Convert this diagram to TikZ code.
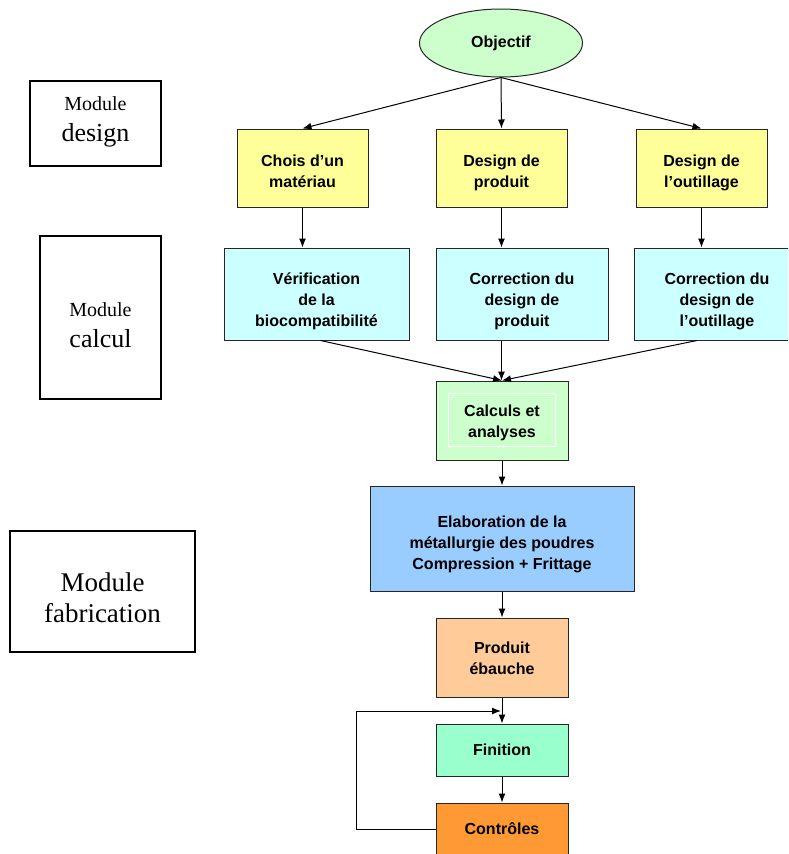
\documentclass[tikz,border=0pt]{standalone}
\usepackage{fontspec}
\setmainfont{Liberation Serif}
\setsansfont{Liberation Sans}
\usetikzlibrary{shapes.geometric,arrows.meta}
\definecolor{jaune}{HTML}{FFFF99}
\definecolor{cyanclair}{HTML}{CCFFFF}
\definecolor{vertclair}{HTML}{CCFFCC}
\definecolor{bleu}{HTML}{99CCFF}
\definecolor{peche}{HTML}{FFCC99}
\definecolor{menthe}{HTML}{99FFCC}
\definecolor{orange}{HTML}{FF9933}
\tikzset{
  etape/.style={draw=black!85, line width=1pt, inner sep=0pt, align=center,
    font=\sffamily\bfseries\fontsize{16}{21}\selectfont,
    minimum width=132pt},
  % boite de hauteur #1, derniere ligne posee a #2 du bas
  boite/.style 2 args={text height=#1-#2, text depth=#2, minimum height=#1},
  module/.style={draw, line width=1.6pt, inner sep=0pt, align=center},
  fleche/.style={-{Latex[length=9pt,width=7pt]}, line width=1pt}
}
\begin{document}
\begin{tikzpicture}[x=1pt,y=-1pt]
  \clip (0,0) rectangle (788,854);
  \fill[white] (0,0) rectangle (788,854);
  % modules
  \node[module, boite={85pt}{25pt}, minimum width=131pt] (mdesign) at (95.5,123.5)
    {\fontsize{20}{22}\selectfont Module\\[11pt]\fontsize{26}{26}\selectfont design};
  \node[module, boite={163pt}{52pt}, minimum width=121pt] (mcalcul) at (100.5,317.5)
    {\fontsize{20}{22}\selectfont Module\\[11pt]\fontsize{26}{26}\selectfont calcul};
  \node[module, boite={121pt}{30pt}, minimum width=185pt] (mfab) at (102.5,591.5)
    {\fontsize{27}{30}\selectfont Module\\[10pt]\fontsize{27}{30}\selectfont fabrication};
  % objectif
  \node[ellipse, draw=black!85, line width=1pt, fill=vertclair, inner sep=0pt,
    minimum width=163pt, minimum height=68pt,
    font=\sffamily\bfseries\fontsize{16}{21}\selectfont] (obj) at (501,43) {Objectif};
  % design
  \node[etape, boite={78pt}{19.5pt}, fill=jaune, minimum width=131pt] (choix) at (302.5,168)
    {Chois d’un\\matériau};
  \node[etape, boite={78pt}{19.5pt}, fill=jaune, minimum width=131pt] (desprod) at (501.5,168)
    {Design de\\produit};
  \node[etape, boite={78pt}{19.5pt}, fill=jaune, minimum width=131pt] (desout) at (701.5,168)
    {Design de\\l’outillage};
  % calcul
  \node[etape, boite={92pt}{14pt}, fill=cyanclair, minimum width=185pt] (verif) at (316.5,294)
    {Vérification\\de la\\biocompatibilité};
  \node[etape, boite={92pt}{14pt}, fill=cyanclair, minimum width=172pt] (corprod) at (522,294)
    {Correction du\\design de\\produit};
  \node[etape, boite={92pt}{14pt}, fill=cyanclair, minimum width=166pt] (corout) at (717,294)
    {Correction du\\design de\\l’outillage};
  \node[etape, boite={79pt}{22.5pt}, fill=vertclair] (calc) at (502,420.5)
    {Calculs et\\analyses};
  \draw[white, line width=1.2pt] ([shift={(13pt,-13pt)}]calc.north west)
    rectangle ([shift={(-13pt,14pt)}]calc.south east);
  % fabrication
  \node[etape, boite={105pt}{21.5pt}, fill=bleu, minimum width=264pt] (elab) at (502,538.5)
    {Elaboration de la\\métallurgie des poudres\\Compression + Frittage};
  \node[etape, boite={79pt}{22.5pt}, fill=peche] (prod) at (502,657.5)
    {Produit\\ébauche};
  \node[etape, boite={52pt}{20.5pt}, fill=menthe] (fin) at (502,750) {Finition};
  \node[etape, boite={52pt}{20.5pt}, fill=orange] (ctrl) at (502,829) {Contrôles};
  \coordinate (retour) at (501,711);
  % fleches
  \draw[fleche] (obj.south) -- (choix.north);
  \draw[fleche] (obj.south) -- (desprod.north);
  \draw[fleche] (obj.south) -- (desout.north);
  \draw[fleche] (choix.south) -- (choix.south |- verif.north);
  \draw[fleche] (desprod.south) -- (desprod.south |- corprod.north);
  \draw[fleche] (desout.south) -- (desout.south |- corout.north);
  \draw[fleche] ([xshift=4pt]verif.south) -- (calc.north);
  \draw[fleche] (desprod.south |- corprod.south) -- (desprod.south |- calc.north);
  \draw[fleche] ([xshift=-20pt]corout.south) -- (calc.north);
  \draw[fleche] (calc.south) -- (elab.north);
  \draw[fleche] (elab.south) -- (prod.north);
  \draw[fleche] (prod.south) -- (fin.north);
  \draw[fleche] (fin.south) -- (ctrl.north);
  \draw[fleche] (ctrl.west) -- ++(-79,0) |- (retour);
\end{tikzpicture}
\end{document}
